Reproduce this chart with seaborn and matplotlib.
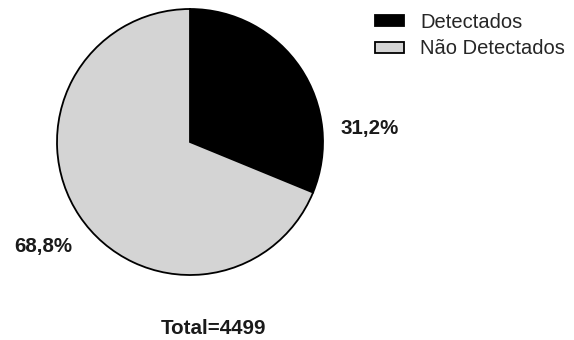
import matplotlib
matplotlib.use("Agg")
import matplotlib.pyplot as plt
import seaborn as sns
from matplotlib.patches import Patch

categories = ["Detectados", "Não Detectados"]
values = [31.2, 68.8]
value_labels = ["31,2%", "68,8%"]
total_label = "Total=4499"
colors = ["#000000", "#d4d4d4"]

sns.set_theme(style="white")
plt.rcParams['font.family'] = ['Liberation Sans', 'DejaVu Sans']

W, H = 574, 340
fig = plt.figure(figsize=(W / 100, H / 100), dpi=100)
cx, cy, r = 190, 142, 133
ax = fig.add_axes([(cx - r) / W, (H - cy - r) / H, 2 * r / W, 2 * r / H])
wedges, _ = ax.pie(values, colors=colors, startangle=90, counterclock=False,
                   radius=1, wedgeprops=dict(edgecolor="black", linewidth=1.3))
ax.set_xlim(-1, 1)
ax.set_ylim(-1, 1)
ax.set_aspect("equal")
ax.set_axis_off()

ax.text(1.353, 0.105, value_labels[0], ha="center", va="center",
        fontsize=14.8, fontweight="bold", color="#1a1a1a", clip_on=False)
ax.text(-1.105, -0.782, value_labels[1], ha="center", va="center",
        fontsize=14.8, fontweight="bold", color="#1a1a1a", clip_on=False)
ax.text(0.173, -1.405, total_label, ha="center", va="center",
        fontsize=14.8, fontweight="bold", color="#1a1a1a", clip_on=False)

handles = [Patch(facecolor=c, edgecolor="black", linewidth=1.3) for c in colors]
fig.legend(handles, categories, loc="upper left", bbox_to_anchor=(371 / W, 1 - 9 / H),
           frameon=False, fontsize=14.5, handlelength=1.45, handleheight=0.45,
           handletextpad=0.78, labelspacing=0.36, borderaxespad=0, borderpad=0.2)

fig.savefig("out.png", dpi=100)
